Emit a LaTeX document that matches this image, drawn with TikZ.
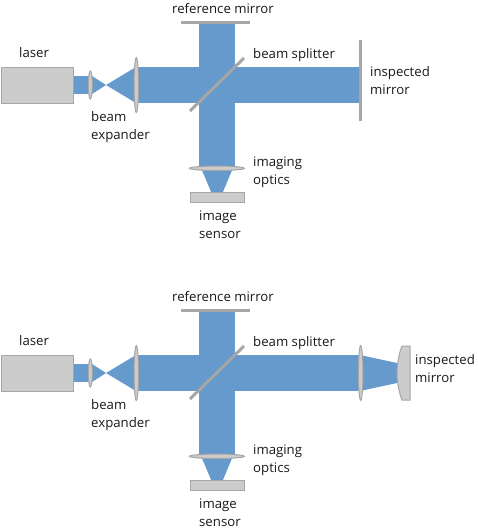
\documentclass[tikz,border=0pt]{standalone}
\usepackage{fontspec}
\setmainfont{Open Sans}
\usetikzlibrary{shapes.geometric}
\definecolor{beamblue}{HTML}{6699CC}
\definecolor{partfill}{HTML}{CCCCCC}
\definecolor{partline}{HTML}{A6A6A6}
\tikzstyle{beam}=[fill=beamblue, draw=none]
\tikzstyle{part}=[rectangle, fill=partfill, draw=partline, line width=1pt, inner sep=0pt]
\tikzstyle{lens}=[ellipse, fill=partfill, draw=partline, line width=1pt, inner sep=0pt]
\tikzstyle{flat}=[draw=partline, line width=3pt]
\tikzstyle{label}=[anchor=base west, inner sep=0pt, font=\fontsize{13.2}{13.2}\selectfont, text=black!90]
\begin{document}
\begin{tikzpicture}[x=1pt, y=-1pt]
	\useasboundingbox (0, 0) rectangle (477, 530);
	\foreach \row in {0, 288} {
		\begin{scope}[shift={(0, \row)}]
			% beams
			\fill [beam] (73, 76) rectangle (92, 94);
			\fill [beam] (92, 76) -- (106, 85) -- (92, 94) -- cycle;
			\fill [beam] (106, 85) -- (136, 67) -- (136, 103) -- cycle;
			\fill [beam] (136, 67) rectangle (360, 103);
			\fill [beam] (199, 22) rectangle (235, 168);
			\fill [beam] (201, 168) -- (233, 168) -- (222.5, 193) -- (211.5, 193) -- cycle;
			% parts
			\node (laser) at (37, 85)[part, minimum width=72pt, minimum height=36pt] {};
			\node (small lens) at (90.3, 85)[lens, minimum width=4pt, minimum height=28pt] {};
			\node (large lens) at (136.3, 85)[lens, minimum width=4.5pt, minimum height=55pt] {};
			\node (imaging lens) at (217, 168.3)[lens, minimum width=55pt, minimum height=4.5pt] {};
			\node (sensor) at (217, 197.3)[part, minimum width=54pt, minimum height=9.5pt] {};
			\coordinate (reference left) at (181, 22);
			\coordinate (reference right) at (250, 22);
			\coordinate (splitter low) at (190, 111);
			\coordinate (splitter high) at (244, 58);
			\draw [flat] (reference left) -- (reference right);
			\draw [flat] (splitter low) -- (splitter high);
			% labels
			\node (laser text) at (19, 57)[label] {laser};
			\node (beam text) at (91, 121)[label] {beam};
			\node (expander text) at (91, 139)[label] {expander};
			\node (reference text) at (172, 13)[label] {reference mirror};
			\node (splitter text) at (253, 58)[label] {beam splitter};
			\node (imaging text) at (253, 166)[label] {imaging};
			\node (optics text) at (253, 184)[label] {optics};
			\node (image text) at (199, 220)[label] {image};
			\node (sensor text) at (199, 238)[label] {sensor};
		\end{scope}
	}
	% flat inspected mirror
	\coordinate (inspected top) at (360.5, 40);
	\coordinate (inspected bottom) at (360.5, 121);
	\draw [flat] (inspected top) -- (inspected bottom);
	\node (inspected text) at (370, 76)[label] {inspected};
	\node (mirror text) at (370, 94)[label] {mirror};
	% curved inspected mirror
	\fill [beam] (360, 355) -- (397, 363) -- (397, 383) -- (360, 391) -- cycle;
	\node (relay lens) at (360.7, 373)[lens, minimum width=4.5pt, minimum height=55pt] {};
	\draw [part] (402, 346) -- (410, 346) -- (410, 400) -- (402, 400)
		.. controls (399, 393) and (397, 381) .. (397, 373)
		.. controls (397, 365) and (399, 353) .. (402, 346) -- cycle;
	\node (curved text) at (415, 364)[label] {inspected};
	\node (curved mirror text) at (415, 382)[label] {mirror};
\end{tikzpicture}
\end{document}
